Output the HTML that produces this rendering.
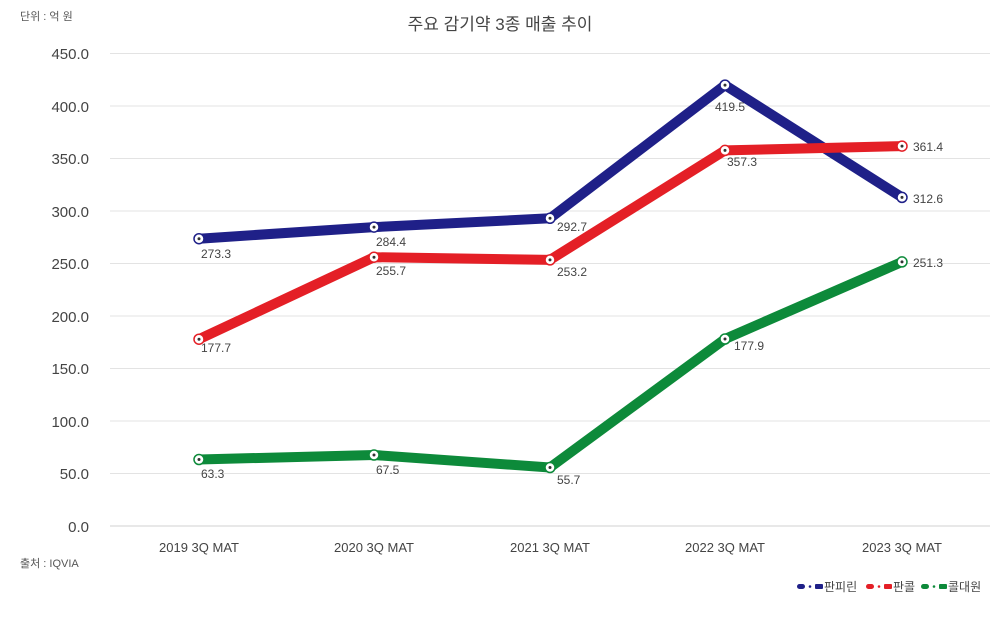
<!DOCTYPE html>
<html><head><meta charset="utf-8"><style>
body{margin:0;background:#fff;}
svg{display:block;font-family:"Liberation Sans","Noto Sans CJK KR",sans-serif;}
</style></head><body>
<svg width="1000" height="619" viewBox="0 0 1000 619">
<text x="500" y="30" font-size="17" fill="#444" text-anchor="middle">주요 감기약 3종 매출 추이</text>
<text x="20" y="20" font-size="11" fill="#555">단위 : 억 원</text>
<g stroke="#e3e3e3" stroke-width="1">
<line x1="110" x2="990" y1="53.5" y2="53.5"/><line x1="110" x2="990" y1="106" y2="106"/>
<line x1="110" x2="990" y1="158.5" y2="158.5"/><line x1="110" x2="990" y1="211" y2="211"/>
<line x1="110" x2="990" y1="263.5" y2="263.5"/><line x1="110" x2="990" y1="316" y2="316"/>
<line x1="110" x2="990" y1="368.5" y2="368.5"/><line x1="110" x2="990" y1="421" y2="421"/>
<line x1="110" x2="990" y1="473.5" y2="473.5"/><line x1="110" x2="990" y1="526" y2="526" stroke="#d0d0d0"/>
</g>
<g font-size="15" fill="#444" text-anchor="end">
<text x="89" y="59">450.0</text><text x="89" y="112">400.0</text><text x="89" y="164">350.0</text>
<text x="89" y="217">300.0</text><text x="89" y="269">250.0</text><text x="89" y="322">200.0</text>
<text x="89" y="374">150.0</text><text x="89" y="427">100.0</text><text x="89" y="479">50.0</text>
<text x="89" y="532">0.0</text>
</g>
<g font-size="13" fill="#444" text-anchor="middle">
<text x="199" y="552">2019 3Q MAT</text><text x="374" y="552">2020 3Q MAT</text>
<text x="550" y="552">2021 3Q MAT</text><text x="725" y="552">2022 3Q MAT</text>
<text x="902" y="552">2023 3Q MAT</text>
</g>
<text x="20" y="567" font-size="11" fill="#555">출처 : IQVIA</text>
<g fill="none" stroke-width="10" stroke-linejoin="round" stroke-linecap="round">
<polyline stroke="#1f2088" points="199,238.7 374,227.1 550,218.3 725,85.1 902,197.4"/>
<polyline stroke="#e41f26" points="199,339.2 374,257.2 550,259.9 725,150.4 902,146.1"/>
<polyline stroke="#0d8a3a" points="199,459.5 374,455 550,467.5 725,339 902,261.9"/>
</g>
<g fill="#fff" stroke-width="1.5">
<g stroke="#1f2088"><circle cx="199" cy="238.7" r="5"/><circle cx="374" cy="227.1" r="5"/><circle cx="550" cy="218.3" r="5"/><circle cx="725" cy="85.1" r="5"/><circle cx="902" cy="197.4" r="5"/></g>
<g stroke="#e41f26"><circle cx="199" cy="339.2" r="5"/><circle cx="374" cy="257.2" r="5"/><circle cx="550" cy="259.9" r="5"/><circle cx="725" cy="150.4" r="5"/><circle cx="902" cy="146.1" r="5"/></g>
<g stroke="#0d8a3a"><circle cx="199" cy="459.5" r="5"/><circle cx="374" cy="455" r="5"/><circle cx="550" cy="467.5" r="5"/><circle cx="725" cy="339" r="5"/><circle cx="902" cy="261.9" r="5"/></g>
</g>
<g fill="#333">
<circle cx="199" cy="238.7" r="1.5"/><circle cx="374" cy="227.1" r="1.5"/><circle cx="550" cy="218.3" r="1.5"/><circle cx="725" cy="85.1" r="1.5"/><circle cx="902" cy="197.4" r="1.5"/>
<circle cx="199" cy="339.2" r="1.5"/><circle cx="374" cy="257.2" r="1.5"/><circle cx="550" cy="259.9" r="1.5"/><circle cx="725" cy="150.4" r="1.5"/><circle cx="902" cy="146.1" r="1.5"/>
<circle cx="199" cy="459.5" r="1.5"/><circle cx="374" cy="455" r="1.5"/><circle cx="550" cy="467.5" r="1.5"/><circle cx="725" cy="339" r="1.5"/><circle cx="902" cy="261.9" r="1.5"/>
</g>
<g font-size="12" fill="#444">
<text x="201" y="258">273.3</text><text x="376" y="246">284.4</text><text x="557" y="231">292.7</text><text x="715" y="111">419.5</text><text x="913" y="203">312.6</text>
<text x="201" y="352">177.7</text><text x="376" y="275">255.7</text><text x="557" y="276">253.2</text><text x="727" y="166">357.3</text><text x="913" y="151">361.4</text>
<text x="201" y="478">63.3</text><text x="376" y="474">67.5</text><text x="557" y="484">55.7</text><text x="734" y="350">177.9</text><text x="913" y="267">251.3</text>
</g>
<g font-size="12" fill="#444">
<rect x="797" y="584" width="8" height="5" rx="2.5" fill="#1f2088"/><circle cx="810" cy="586.5" r="1.3" fill="#1f2088"/><rect x="815" y="584" width="8" height="5" rx="1" fill="#1f2088"/><text x="824" y="591">판피린</text>
<rect x="866" y="584" width="8" height="5" rx="2.5" fill="#e41f26"/><circle cx="879" cy="586.5" r="1.3" fill="#e41f26"/><rect x="884" y="584" width="8" height="5" rx="1" fill="#e41f26"/><text x="893" y="591">판콜</text>
<rect x="921" y="584" width="8" height="5" rx="2.5" fill="#0d8a3a"/><circle cx="934" cy="586.5" r="1.3" fill="#0d8a3a"/><rect x="939" y="584" width="8" height="5" rx="1" fill="#0d8a3a"/><text x="948" y="591">콜대원</text>
</g>
</svg>
</body></html>
